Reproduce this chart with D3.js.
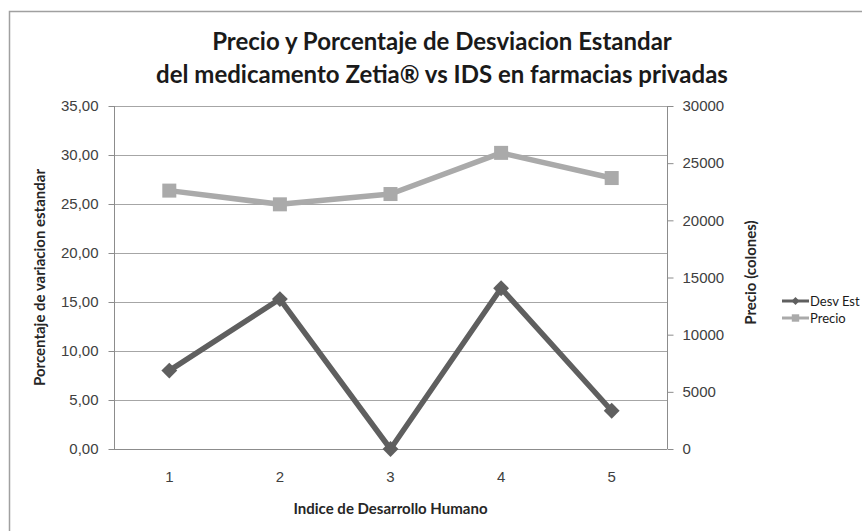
<!doctype html>
<html lang="es">
<head>
<meta charset="utf-8" />
<title>Precio y Porcentaje de Desviacion Estandar</title>
<style>
  html, body { margin: 0; padding: 0; background: #fff; }
  svg { display: block; font-family: Lato, "Open Sans", sans-serif; }
  .tick text { fill: #404040; font-size: 15px; }
  .axis path, .axis line { stroke: #8c8c8c; }
  .grid line { stroke: #a6a6a6; }
</style>
</head>
<body>
<svg id="chart" width="862" height="531"></svg>
<script src="https://cdn.jsdelivr.net/npm/d3@7/dist/d3.min.js"></script>
<script>
// Indice de Desarrollo Humano categories
const categories = [1, 2, 3, 4, 5];
// Desviacion estandar (%), left axis
const desvEst = [8.0, 15.3, 0.0, 16.4, 3.9];
// Precio (colones), right axis
const precio = [22600, 21400, 22300, 25900, 23700];
const leftTicks = [0, 5, 10, 15, 20, 25, 30, 35];
const rightTicks = [0, 5000, 10000, 15000, 20000, 25000, 30000];

const svg = d3.select('#chart');
const m = { left: 114, right: 667, top: 106, bottom: 449 };

// chart frame (runs off the right and bottom edges, as in the source)
svg.append('rect').attr('x', 9.5).attr('y', 11.5).attr('width', 900).attr('height', 560)
  .attr('fill', 'none').attr('stroke', '#a0a0a0').attr('stroke-width', 1.5);

const x = d3.scaleBand().domain(categories).range([m.left, m.right]);
const yL = d3.scaleLinear().domain([0, 35]).range([m.bottom, m.top]);
const yR = d3.scaleLinear().domain([0, 30000]).range([m.bottom, m.top]);
const cx = d => x(d) + x.bandwidth() / 2;

// gridlines
svg.append('g').attr('class', 'grid')
  .selectAll('line').data(leftTicks.slice(1)).join('line')
  .attr('x1', m.left).attr('x2', m.right)
  .attr('y1', d => Math.round(yL(d)) + 0.5).attr('y2', d => Math.round(yL(d)) + 0.5);

// left axis
const gL = svg.append('g').attr('class', 'axis').attr('transform', `translate(${m.left + 0.5},0)`)
  .call(d3.axisLeft(yL).tickValues(leftTicks).tickSize(6).tickPadding(10)
    .tickFormat(d => d3.format('.2f')(d).replace('.', ',')));
gL.select('.domain').attr('d', `M0,${m.top}V${m.bottom}`);

// right axis
const gR = svg.append('g').attr('class', 'axis').attr('transform', `translate(${m.right + 0.5},0)`)
  .call(d3.axisRight(yR).tickValues(rightTicks).tickSize(6).tickPadding(9).tickFormat(d3.format('d')));
gR.select('.domain').attr('d', `M0,${m.top}V${m.bottom}`);

// bottom axis
const gB = svg.append('g').attr('class', 'axis').attr('transform', `translate(0,${m.bottom + 0.5})`)
  .call(d3.axisBottom(x).tickSize(0).tickPadding(22));
gB.select('.domain').attr('d', `M${m.left},0H${m.right}`);

// series
const lineL = d3.line().x((d, i) => cx(categories[i])).y(d => yL(d));
const lineR = d3.line().x((d, i) => cx(categories[i])).y(d => yR(d));

svg.append('path').datum(precio).attr('d', lineR)
  .attr('fill', 'none').attr('stroke', '#aaaaaa').attr('stroke-width', 5.5).attr('stroke-linejoin', 'round');
svg.append('g').selectAll('rect').data(precio).join('rect')
  .attr('x', (d, i) => cx(categories[i]) - 7).attr('y', d => yR(d) - 7)
  .attr('width', 14).attr('height', 14).attr('fill', '#aaaaaa');

svg.append('path').datum(desvEst).attr('d', lineL)
  .attr('fill', 'none').attr('stroke', '#5f5f5f').attr('stroke-width', 5.5).attr('stroke-linejoin', 'round');
svg.append('g').selectAll('path').data(desvEst).join('path')
  .attr('d', d3.symbol(d3.symbolDiamond2, 160))
  .attr('transform', (d, i) => `translate(${cx(categories[i])},${yL(d)})`)
  .attr('fill', '#5f5f5f');

// titles
const title = svg.append('text').attr('text-anchor', 'middle').attr('font-weight', 700)
  .attr('font-size', 24).attr('fill', '#1a1a1a');
title.append('tspan').attr('x', 442).attr('y', 50).text('Precio y Porcentaje de Desviacion Estandar');
title.append('tspan').attr('x', 442).attr('y', 83).text('del medicamento Zetia\u00AE vs IDS en farmacias privadas');

svg.append('text').attr('transform', `translate(45,${(m.top + m.bottom) / 2}) rotate(-90)`)
  .attr('text-anchor', 'middle').attr('font-weight', 700).attr('font-size', 15).attr('fill', '#262626')
  .text('Porcentaje de variacion estandar');
svg.append('text').attr('transform', `translate(756,${(m.top + m.bottom) / 2 - 5}) rotate(-90)`)
  .attr('text-anchor', 'middle').attr('font-weight', 700).attr('font-size', 15).attr('fill', '#262626')
  .text('Precio (colones)');
svg.append('text').attr('x', (m.left + m.right) / 2).attr('y', 514)
  .attr('text-anchor', 'middle').attr('font-weight', 700).attr('font-size', 15).attr('fill', '#262626')
  .text('Indice de Desarrollo Humano');

// legend
const legend = [
  { name: 'Desv Est', color: '#5f5f5f', shape: 'diamond' },
  { name: 'Precio', color: '#aaaaaa', shape: 'square' },
];
const lg = svg.append('g').selectAll('g').data(legend).join('g')
  .attr('transform', (d, i) => `translate(782,${301 + i * 17})`);
lg.append('line').attr('x1', 0).attr('x2', 27).attr('stroke', d => d.color).attr('stroke-width', 3);
lg.append('path')
  .attr('d', d => d.shape === 'diamond' ? d3.symbol(d3.symbolDiamond2, 40)() : d3.symbol(d3.symbolSquare2, 70)())
  .attr('transform', 'translate(13.5,0)').attr('fill', d => d.color);
lg.append('text').attr('x', 28).attr('dy', '0.35em').attr('font-size', 13)
  .attr('fill', '#1a1a1a').text(d => d.name);
</script>
</body>
</html>
